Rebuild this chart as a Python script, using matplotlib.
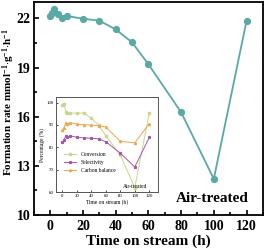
import numpy as np
import matplotlib
matplotlib.use("Agg")
import matplotlib.pyplot as plt
from matplotlib.ticker import MultipleLocator

plt.rcParams['font.family'] = ['Liberation Serif', 'DejaVu Serif']
plt.rcParams['mathtext.fontset'] = 'custom'
plt.rcParams['mathtext.rm'] = 'Liberation Serif:bold'
plt.rcParams['mathtext.default'] = 'rm'

# main chart data
time_main = [0, 1, 2, 5, 7, 10, 20, 30, 40, 50, 60, 80, 100, 120]
rate = [22.16, 22.3, 22.57, 22.24, 22.0, 22.15, 21.98, 21.86, 21.33, 20.54, 19.2, 16.27, 12.2, 21.85]
y_ticks = [10, 13, 16, 19, 22]

# inset data
time_inset = [0, 2, 5, 7, 10, 20, 30, 40, 50, 60, 80, 100, 120]
conversion = [99.0, 99.2, 95.7, 95.5, 95.3, 95.3, 95.3, 93.0, 90.0, 85.1, 76.5, 62.0, 95.3]
selectivity = [82.3, 83.3, 85.2, 84.5, 85.2, 84.5, 84.2, 84.1, 83.8, 82.5, 77.4, 71.2, 84.4]
carbon_balance = [87.6, 88.7, 91.1, 90.4, 91.1, 90.4, 90.1, 90.0, 89.7, 89.1, 82.7, 82.0, 90.6]

teal = '#5aa9a6'
c_conv = '#c9d68c'
c_sel = '#a658a8'
c_cb = '#eaa84a'

fig = plt.figure(figsize=(2.65, 2.52), dpi=100)
ax = fig.add_axes([0.128, 0.147, 0.864, 0.845])
ax.plot(time_main, rate, '-o', color=teal, lw=1.3, ms=4.2)
ax.set_xlim(-10, 130)
ax.set_ylim(10, 23)
ax.xaxis.set_major_locator(MultipleLocator(20))
ax.xaxis.set_minor_locator(MultipleLocator(10))
ax.set_yticks(y_ticks)
ax.set_yticks([t + 1.5 for t in y_ticks[:-1]], minor=True)
ax.tick_params(which='both', direction='in', labelsize=10, width=1.2)
ax.tick_params(which='major', length=3.5)
ax.tick_params(which='minor', length=2)
ax.tick_params(axis='y', pad=2.5)
for lab in ax.get_xticklabels() + ax.get_yticklabels():
    lab.set_fontweight('bold')
for s in ax.spines.values():
    s.set_linewidth(1.3)
ax.set_xlabel('Time on stream (h)', fontsize=11, fontweight='bold', labelpad=1)
ax.set_ylabel(r'Formation rate mmol$^{-1}$$\cdot$g$^{-1}$$\cdot$h$^{-1}$',
              fontsize=8, fontweight='bold')
ax.yaxis.set_label_coords(-0.075, 0.53)
ax.text(99, 11.0, 'Air-treated', fontsize=11, fontweight='bold', ha='center', va='center')

# inset
ins = fig.add_axes([0.211, 0.238, 0.385, 0.377])
ins.plot(time_inset, conversion, '-s', color=c_conv, lw=0.7, ms=1.5, label='Conversion')
ins.plot(time_inset, selectivity, '-*', color=c_sel, lw=0.7, ms=2, label='Selectivity')
ins.plot(time_inset, carbon_balance, '-^', color=c_cb, lw=0.7, ms=1.5, label='Carbon balance')
ins.set_xlim(-9, 132)
ins.set_ylim(60, 102.5)
ins.xaxis.set_major_locator(MultipleLocator(20))
ins.yaxis.set_major_locator(MultipleLocator(10))
ins.tick_params(direction='in', labelsize=3.5, length=1.5, width=0.5, pad=1.5)
for s in ins.spines.values():
    s.set_linewidth(0.7)
    s.set_color('#555555')
ins.set_xlabel('Time on stream (h)', fontsize=4, labelpad=1)
ins.set_ylabel('Percentage (%)', fontsize=4, labelpad=1)
ins.text(100, 62.5, 'Air-treated', fontsize=4, ha='center', va='center')
ins.legend(loc='upper left', bbox_to_anchor=(0.04, 0.46), frameon=False, fontsize=4,
           handlelength=2.2, labelspacing=0.5, borderpad=0.2)

fig.savefig('out.png', dpi=100)
